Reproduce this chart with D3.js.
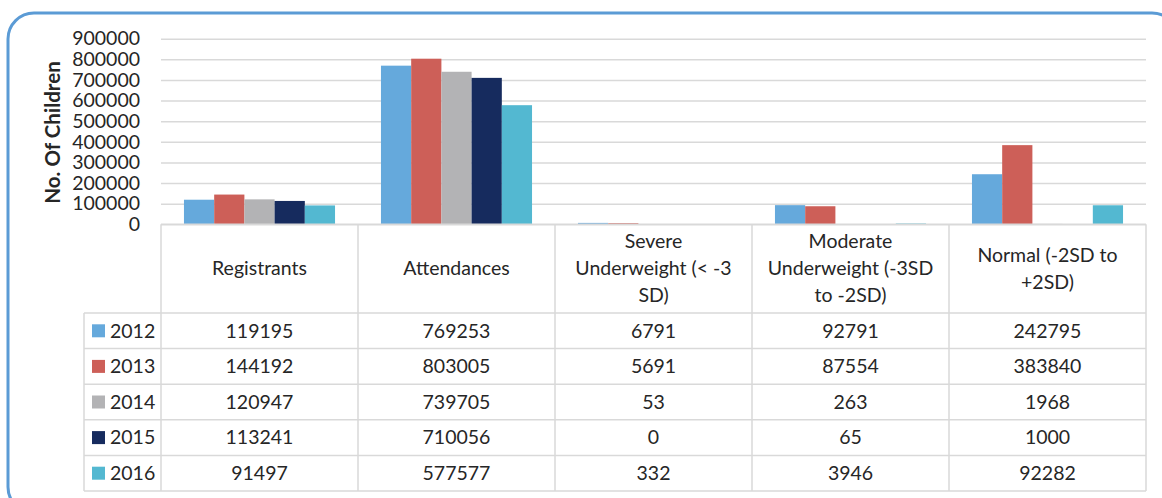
<!DOCTYPE html>
<html>
<head>
<meta charset="utf-8">
<script src="https://cdn.jsdelivr.net/npm/d3@7"></script>
<style>
  body { margin: 0; background: #fff; }
  svg text { font-family: Lato, "Open Sans", sans-serif; fill: #262626; }
</style>
</head>
<body>
<div id="chart"></div>
<script>
// podaci (prelom retka u nazivima kao u izvornom zaglavlju tablice)
const categories = ["Registrants", "Attendances", "Severe\nUnderweight (< -3\nSD)",
  "Moderate\nUnderweight (-3SD\nto -2SD)", "Normal (-2SD to\n+2SD)"];
const years = ["2012", "2013", "2014", "2015", "2016"];
const values2012 = [119195, 769253, 6791, 92791, 242795];
const values2013 = [144192, 803005, 5691, 87554, 383840];
const values2014 = [120947, 739705, 53, 263, 1968];
const values2015 = [113241, 710056, 0, 65, 1000];
const values2016 = [91497, 577577, 332, 3946, 92282];
const yTicks = [0, 100000, 200000, 300000, 400000, 500000, 600000, 700000, 800000, 900000];
const colors = ["#65a9dc", "#cd5f58", "#b3b3b5", "#162b5e", "#53b8d1"];

const series = [values2012, values2013, values2014, values2015, values2016];

const width = 1162, height = 498;
const plotLeft = 161, plotRight = 1146, plotTop = 38.7, plotBottom = 224.3;
const headerBottom = 313, rowH = 35.6, legendLeft = 84;
const fontSize = 19.5;

const svg = d3.select("#chart").append("svg")
  .attr("width", width)
  .attr("height", height);

// okvir
svg.append("rect")
  .attr("x", 8).attr("y", 13)
  .attr("width", 1170).attr("height", 500)
  .attr("rx", 26).attr("ry", 26)
  .attr("fill", "none")
  .attr("stroke", "#5b9bd5")
  .attr("stroke-width", 3);

const x = d3.scaleBand().domain(categories).range([plotLeft, plotRight]);
const x1 = d3.scaleBand().domain(years).range([0, x.bandwidth()]).paddingOuter(0.76);
const y = d3.scaleLinear().domain([0, 900000]).range([plotBottom, plotTop]);

// mreza i oznake y osi
const yAxis = svg.append("g")
  .attr("transform", "translate(" + plotLeft + ",0)")
  .call(d3.axisLeft(y).tickValues(yTicks).tickFormat(d3.format("d"))
    .tickSize(-(plotRight - plotLeft)).tickPadding(21));
yAxis.attr("font-family", null).attr("font-size", null);
yAxis.select(".domain").remove();
yAxis.selectAll("line").attr("stroke", "#d9d9d9").attr("stroke-width", 1.5);
yAxis.selectAll("text").attr("font-size", fontSize).attr("fill", "#262626");

// naslov y osi
svg.append("text")
  .attr("transform", "rotate(-90)")
  .attr("x", -(plotTop + plotBottom) / 2 - 1)
  .attr("y", 53)
  .attr("dy", "0.35em")
  .attr("text-anchor", "middle")
  .attr("font-size", 20.5)
  .attr("font-weight", "bold")
  .text("No. Of Children");

// stupci
const groups = svg.selectAll(".grp")
  .data(categories)
  .enter()
  .append("g")
  .attr("class", "grp")
  .attr("transform", d => "translate(" + x(d) + ",0)");

groups.selectAll("rect")
  .data((c, i) => years.map((yr, j) => ({ year: yr, value: series[j][i], color: colors[j] })))
  .enter()
  .append("rect")
  .attr("x", d => x1(d.year))
  .attr("y", d => y(d.value))
  .attr("width", x1.bandwidth())
  .attr("height", d => plotBottom - y(d.value))
  .attr("fill", d => d.color);

// tablica - linije
const grid = svg.append("g").attr("stroke", "#d9d9d9").attr("stroke-width", 1.5);
const tableBottom = headerBottom + rowH * years.length;
grid.append("line").attr("x1", plotLeft).attr("x2", plotRight).attr("y1", plotBottom).attr("y2", plotBottom);
for (let r = 0; r <= years.length; r++) {
  const yy = headerBottom + r * rowH;
  grid.append("line").attr("x1", legendLeft).attr("x2", plotRight).attr("y1", yy).attr("y2", yy);
}
grid.append("line").attr("x1", legendLeft).attr("x2", legendLeft).attr("y1", headerBottom).attr("y2", tableBottom);
categories.concat([null]).forEach(c => {
  const xx = c === null ? plotRight : x(c);
  grid.append("line").attr("x1", xx).attr("x2", xx).attr("y1", plotBottom).attr("y2", tableBottom);
});

// zaglavlje
const lineH = 27;
categories.forEach(c => {
  const lines = c.split("\n");
  const cy = (plotBottom + headerBottom) / 2;
  const t = svg.append("text")
    .attr("text-anchor", "middle")
    .attr("font-size", fontSize);
  lines.forEach((l, k) => {
    t.append("tspan")
      .attr("x", x(c) + x.bandwidth() / 2)
      .attr("y", cy + (k - (lines.length - 1) / 2) * lineH)
      .attr("dy", "0.35em")
      .text(l);
  });
});

// redovi tablice
years.forEach((yr, j) => {
  const cy = headerBottom + j * rowH + rowH / 2;
  svg.append("rect")
    .attr("x", 92).attr("y", cy - 6.5)
    .attr("width", 13).attr("height", 13)
    .attr("fill", colors[j]);
  svg.append("text")
    .attr("x", 110).attr("y", cy).attr("dy", "0.35em")
    .attr("font-size", fontSize)
    .text(yr);
  categories.forEach((c, i) => {
    svg.append("text")
      .attr("x", x(c) + x.bandwidth() / 2)
      .attr("y", cy).attr("dy", "0.35em")
      .attr("text-anchor", "middle")
      .attr("font-size", fontSize)
      .text(series[j][i]);
  });
});
</script>
</body>
</html>
